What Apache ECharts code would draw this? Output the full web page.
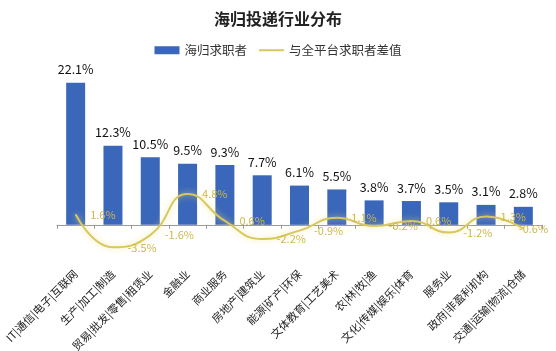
<!DOCTYPE html>
<html>
<head>
<meta charset="utf-8">
<script src="https://cdn.jsdelivr.net/npm/echarts@6/dist/echarts.min.js"></script>
<style>
  html, body { margin: 0; padding: 0; background: #fff; }
  #chart { width: 556px; height: 351px; }
</style>
</head>
<body>
<div id="chart"></div>
<script>
// 行业分类
var industries = ['IT|通信|电子|互联网', '生产|加工|制造', '贸易|批发|零售|租赁业', '金融业', '商业服务',
  '房地产|建筑业', '能源|矿产|环保', '文体教育|工艺美术', '农|林|牧|渔', '文化|传媒|娱乐|体育',
  '服务业', '政府|非盈利机构', '交通|运输|物流|仓储'];
// 海归求职者占比 (%)
var returneeShare = [22.1, 12.3, 10.5, 9.5, 9.3, 7.7, 6.1, 5.5, 3.8, 3.7, 3.5, 3.1, 2.8];
// 与全平台求职者差值 (%)
var diffFromAll = [1.6, -3.5, -1.6, 4.8, 0.6, -2.2, -0.9, 1.1, -0.2, 0.6, -1.2, 1.3, -0.6];

var myChart = echarts.init(document.getElementById('chart'));
var font = '"Noto Sans CJK SC", "Microsoft YaHei", sans-serif';
var lineColor = '#d8c75e';

// 最后一个标签往左挪，避免超出画布
var diffData = diffFromAll.map(function (v, i) {
  if (i === diffFromAll.length - 1) {
    return { value: v, label: { offset: [-19, 0] } };
  }
  return v;
});

myChart.setOption({
  animation: false,
  textStyle: { fontFamily: font },
  title: {
    text: '海归投递行业分布',
    left: 'center',
    top: 6,
    textStyle: { fontSize: 16, fontWeight: 'bold', color: '#222', fontFamily: font }
  },
  legend: {
    top: 39,
    left: 'center',
    itemWidth: 25,
    itemHeight: 8,
    itemGap: 12,
    textStyle: { fontSize: 12.5, color: '#333', fontFamily: font },
    data: [
      { name: '海归求职者', icon: 'rect' },
      { name: '与全平台求职者差值', icon: 'path://M0,0 L25,0 L25,2 L0,2 Z', itemStyle: { color: lineColor, opacity: 1 } }
    ]
  },
  grid: { left: 57, right: 14, top: 64, bottom: 94, containLabel: false, outerBoundsMode: 'none' },
  xAxis: {
    type: 'category',
    data: industries,
    axisLine: { onZero: true, lineStyle: { color: '#9a9a9a' } },
    axisTick: { show: true, length: 4, lineStyle: { color: '#9a9a9a' } },
    axisLabel: {
      interval: 0,
      rotate: 45,
      margin: 15,
      fontSize: 11,
      color: '#222',
      fontFamily: font
    }
  },
  yAxis: {
    type: 'value',
    min: -5,
    max: 25,
    show: false,
    splitLine: { show: false }
  },
  series: [
    {
      name: '海归求职者',
      type: 'bar',
      barWidth: 19,
      data: returneeShare,
      itemStyle: { color: '#3a67b9' },
      label: {
        show: true,
        position: 'top',
        distance: 7,
        fontSize: 12.5,
        color: '#111',
        formatter: '{c}%'
      }
    },
    {
      name: '与全平台求职者差值',
      type: 'line',
      smooth: true,
      showSymbol: true,
      symbol: 'circle',
      symbolSize: 1,
      data: diffData,
      z: 3,
      lineStyle: {
        width: 2,
        color: lineColor,
        shadowColor: 'rgba(240, 225, 120, 0.8)',
        shadowBlur: 6
      },
      itemStyle: { color: lineColor },
      label: {
        show: true,
        position: 'right',
        distance: 14,
        fontSize: 11,
        color: '#cdb84a',
        formatter: '{c}%'
      }
    }
  ]
});
</script>
</body>
</html>
